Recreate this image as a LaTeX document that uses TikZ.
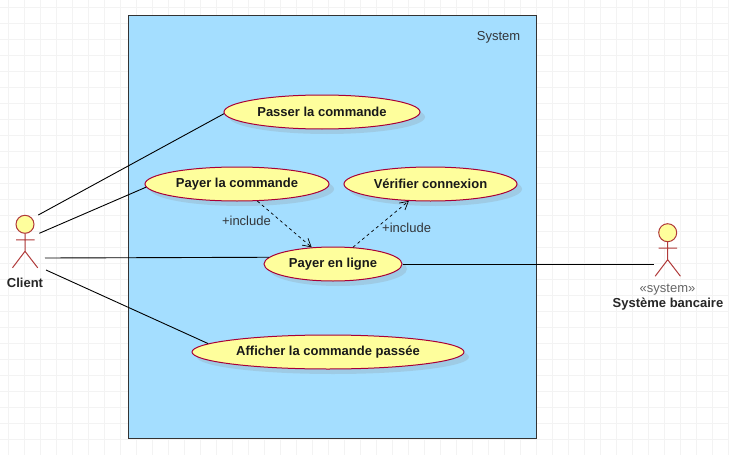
\documentclass[tikz,border=0pt]{standalone}
\usepackage{fontspec}
\setmainfont{Liberation Sans}
\usetikzlibrary{arrows.meta, shapes.geometric, shadows}
\definecolor{sysblue}{HTML}{A4DEFF}
\definecolor{ucyellow}{HTML}{FEFE9C}
\definecolor{ucred}{HTML}{A80036}
\definecolor{actred}{HTML}{B03A3A}
\definecolor{gridgray}{HTML}{F3F3F3}
\definecolor{txtgray}{HTML}{33363A}
\tikzset{
  >={Straight Barb[length=8pt,width=9pt]},
  usecase/.style={ellipse, draw=ucred, fill=ucyellow, line width=1pt,
    inner sep=0pt, minimum height=34pt, font=\fontsize{13}{14}\selectfont\bfseries,
    text=black!90, drop shadow={shadow xshift=5pt, shadow yshift=-5pt, fill=black!45, opacity=0.22}},
  lbl/.style={inner sep=0pt, font=\fontsize{13}{14}\selectfont, text=txtgray},
  actorname/.style={inner sep=0pt, font=\fontsize{13}{14}\selectfont\bfseries, text=black!85},
  assoc/.style={black, line width=0.9pt},
  incl/.style={->, dashed, black, line width=0.7pt},
  actor/.pic={
    \node[circle, draw=actred, fill=ucyellow, line width=1pt, minimum size=18pt, inner sep=0pt] (-head) at (0,0) {};
    \draw[actred, line width=1pt] (-head.south) -- (0,27)
      (-9,15.5) -- (9.5,15.5)
      (-12.5,43.5) -- (0,27) -- (12.7,43.5);
  },
}

\begin{document}
\begin{tikzpicture}[x=1pt, y=-1pt]
  \useasboundingbox (0,0) rectangle (729,455);
  \fill[white] (0,0) rectangle (729,455);
  \foreach \gx in {8,24,...,728} \draw[gridgray] (\gx,0) -- (\gx,455);
  \foreach \gy in {7,23,...,455} \draw[gridgray] (0,\gy) -- (729,\gy);

  \node[draw=black!80, fill=sysblue, line width=1pt, minimum width=408pt, minimum height=423pt, inner sep=0pt] (system) at (332,226.5) {};
  \node[lbl] (systemname) at (498.5,37) {System};

  \node[usecase, minimum width=196pt] (passer) at (322,112) {\raisebox{-1.5pt}{Passer la commande}};
  \node[usecase, minimum width=184pt] (payer) at (237,184) {\raisebox{-1.5pt}{Payer la commande}};
  \node[usecase, minimum width=173pt] (verifier) at (430.5,184) {\raisebox{-1.5pt}{Vérifier connexion}};
  \node[usecase, minimum width=138pt] (ligne) at (333,264) {\raisebox{-1.5pt}{Payer en ligne}};
  \node[usecase, minimum width=272pt] (afficher) at (328,352) {\raisebox{-1.5pt}{Afficher la commande passée}};

  \pic (client) at (25,224.3) {actor};
  \node[actorname] (clientname) at (25,282.5) {Client};
  \pic (banque) at (667.7,232.7) {actor};
  \node[lbl, text=black!60] (stereo) at (667.5,290) {«system»};
  \node[actorname] (banquename) at (668,304) {Système bancaire};

  \coordinate (c1) at (38.3,215);
  \coordinate (c2) at (39.3,233.3);
  \coordinate (c3) at (45,258);
  \coordinate (c4) at (46,270);
  \coordinate (b1) at (654,264);

  \draw[assoc] (c1) -- (passer.181.8);
  \draw[assoc] (c2) -- (payer.182.4);
  \draw[assoc] (c3) -- (ligne.174.7);
  \draw[assoc] (c4) -- (afficher.176.8);
  \draw[assoc] (ligne.east) -- (b1);

  \draw[incl] (payer.-40) -- (ligne.142) node[lbl, pos=0.42, anchor=east, xshift=-9pt, yshift=-0.5pt] (incl1) {+include};
  \draw[incl] (ligne.40.6) -- (verifier.218.7) node[lbl, pos=0.41, anchor=west, xshift=6pt, yshift=0pt] (incl2) {+include};
\end{tikzpicture}
\end{document}
